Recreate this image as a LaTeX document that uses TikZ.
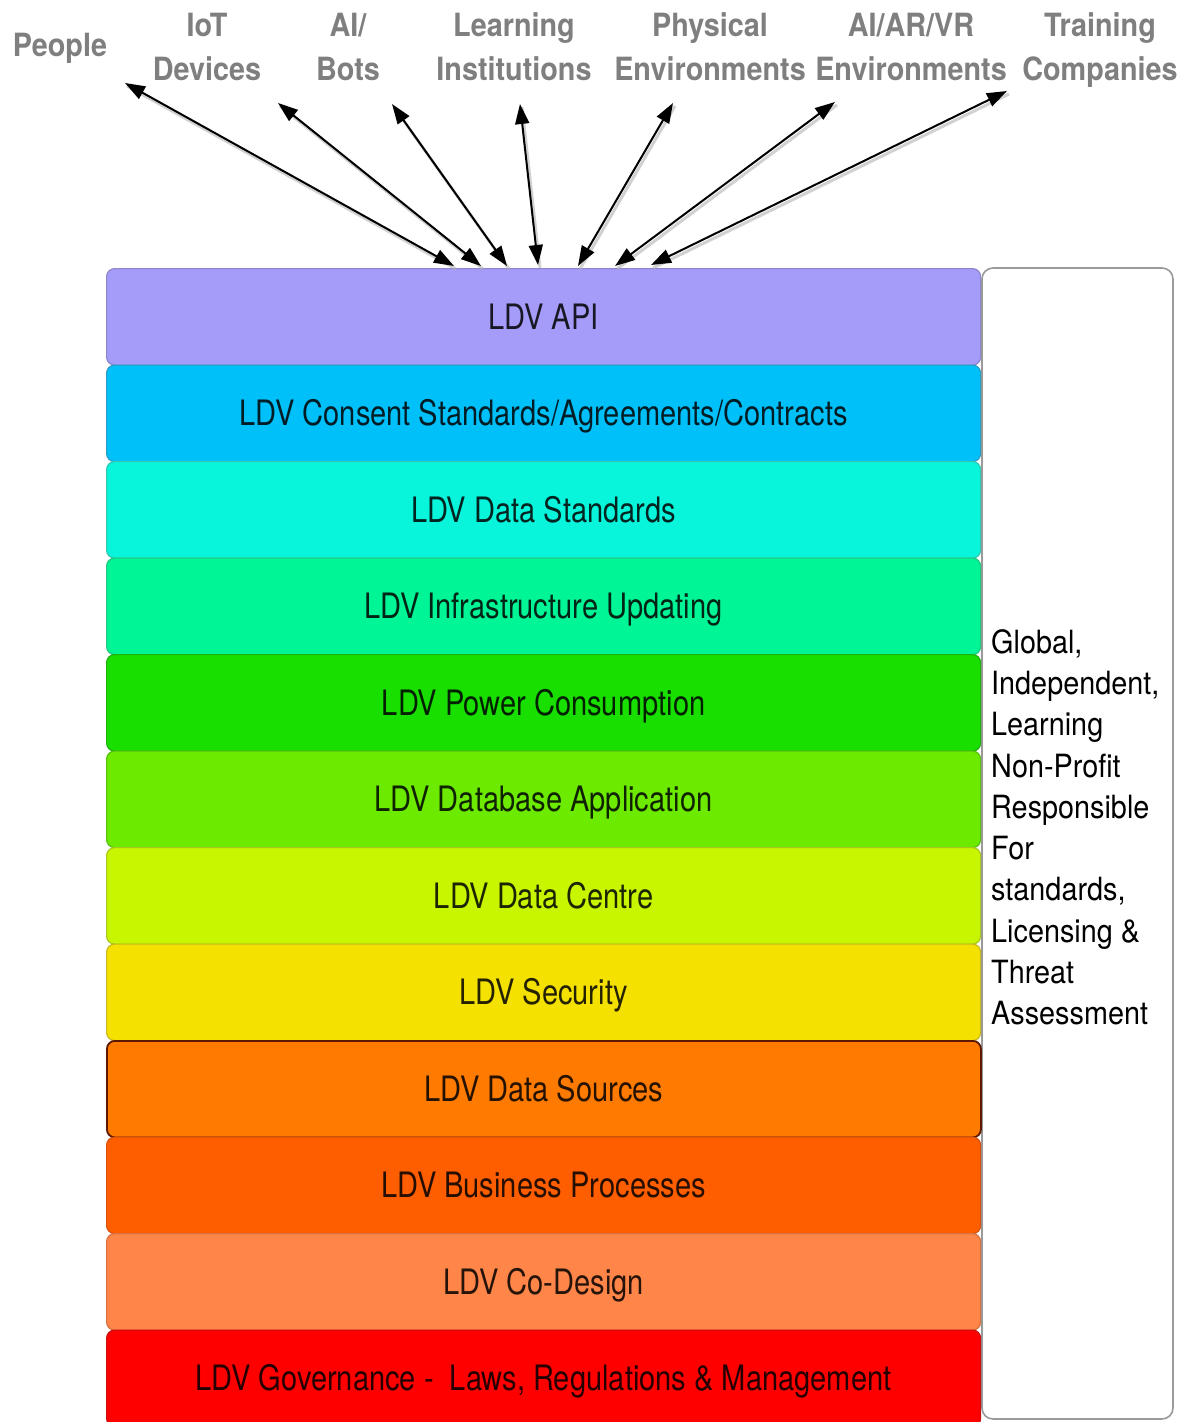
\documentclass[tikz,border=0pt]{standalone}
\usepackage{fontspec}
\setmainfont{TeX Gyre Heros}
\usetikzlibrary{arrows.meta,calc}

% layer fills and outlines
\definecolor{cApi}{HTML}{A49CF8}     \definecolor{bApi}{HTML}{8C86CC}
\definecolor{cConsent}{HTML}{00C0FA} \definecolor{bConsent}{HTML}{2C9EC4}
\definecolor{cDstd}{HTML}{08F5DC}    \definecolor{bDstd}{HTML}{30C8B0}
\definecolor{cInfra}{HTML}{00F596}   \definecolor{bInfra}{HTML}{20C880}
\definecolor{cPower}{HTML}{18DF00}   \definecolor{bPower}{HTML}{20B010}
\definecolor{cDbase}{HTML}{6CEB00}   \definecolor{bDbase}{HTML}{58C010}
\definecolor{cCentre}{HTML}{C8F500}  \definecolor{bCentre}{HTML}{A8C820}
\definecolor{cSecur}{HTML}{F5E100}   \definecolor{bSecur}{HTML}{C8B820}
\definecolor{cSrc}{HTML}{FF7A00}     \definecolor{bSrc}{HTML}{5C1800}
\definecolor{cBiz}{HTML}{FF5E00}     \definecolor{bBiz}{HTML}{D85010}
\definecolor{cCodes}{HTML}{FF8548}   \definecolor{bCodes}{HTML}{D87040}
\definecolor{cGov}{HTML}{FF0000}     \definecolor{bGov}{HTML}{C81010}
\definecolor{labelgray}{HTML}{7F7F7F}
\definecolor{sidegray}{HTML}{9A9A9A}

\newcommand{\layertext}[1]{\scalebox{0.83}[1]{#1}}
\newcommand{\toptext}[1]{\strut\scalebox{0.9}[1]{#1}}

\begin{document}
\begin{tikzpicture}[x=1pt,y=-1pt,
  layerbox/.style={draw, line width=1.2pt, rounded corners=8pt,
    minimum width=874pt, minimum height=96.5pt, anchor=north west,
    inner sep=0pt, text height=25pt, text depth=0pt,
    text=black, text opacity=0.85,
    font=\fontsize{35}{42}\selectfont},
  toplabel/.style={text=labelgray, align=center, inner sep=0pt,
    font=\fontsize{32}{44}\selectfont\bfseries},
  link/.style={line width=2pt, black,
    {Triangle[length=20pt,width=14pt]}-{Triangle[length=20pt,width=14pt]}},
  linkshadow/.style={line width=3pt, black!30, opacity=0.6}
]
\useasboundingbox (0,0) rectangle (1185,1422);

% side panel
\draw[sidegray, line width=1.6pt, rounded corners=11pt, fill=white]
  (982,268) rectangle (1173,1419);
\node[anchor=north west, inner sep=0pt, align=left,
      font=\fontsize{32}{41.3}\selectfont] (side) at (991,629)
  {\scalebox{0.9}[1]{Global,}\\ \scalebox{0.9}[1]{Independent,}\\
   \scalebox{0.9}[1]{Learning}\\ \scalebox{0.9}[1]{Non-Profit}\\
   \scalebox{0.9}[1]{Responsible}\\ \scalebox{0.9}[1]{For}\\
   \scalebox{0.9}[1]{standards,}\\ \scalebox{0.9}[1]{Licensing \&}\\
   \scalebox{0.9}[1]{Threat}\\ \scalebox{0.9}[1]{Assessment}};

% the layer stack, top to bottom
\node[layerbox, fill=cApi, draw=bApi]         (api)     at (106,268)    {\layertext{LDV API}};
\node[layerbox, fill=cConsent, draw=bConsent] (consent) at (106,364.5)  {\layertext{LDV Consent Standards/Agreements/Contracts}};
\node[layerbox, fill=cDstd, draw=bDstd]       (dstd)    at (106,461)    {\layertext{LDV Data Standards}};
\node[layerbox, fill=cInfra, draw=bInfra]     (infra)   at (106,557.5)  {\layertext{LDV Infrastructure Updating}};
\node[layerbox, fill=cPower, draw=bPower]     (power)   at (106,654)    {\layertext{LDV Power Consumption}};
\node[layerbox, fill=cDbase, draw=bDbase]     (dbase)   at (106,750.5)  {\layertext{LDV Database Application}};
\node[layerbox, fill=cCentre, draw=bCentre]   (centre)  at (106,847)    {\layertext{LDV Data Centre}};
\node[layerbox, fill=cSecur, draw=bSecur]     (secur)   at (106,943.5)  {\layertext{LDV Security}};
\node[layerbox, fill=cSrc, draw=bSrc, line width=1.8pt] (src) at (106,1040) {\layertext{LDV Data Sources}};
\node[layerbox, fill=cBiz, draw=bBiz]         (biz)     at (106,1136.5) {\layertext{LDV Business Processes}};
\node[layerbox, fill=cCodes, draw=bCodes]     (codes)   at (106,1233)   {\layertext{LDV Co-Design}};
\node[layerbox, fill=cGov, draw=bGov]         (gov)     at (106,1329.5) {\layertext{LDV Governance -~ Laws, Regulations \& Management}};

% actors across the top
\node[toplabel] (people)   at (60,47.5)    {\toptext{People}};
\node[toplabel] (iot)      at (207,49.7)   {\toptext{IoT}\\ \toptext{Devices}};
\node[toplabel] (bots)     at (348,49.7)   {\toptext{AI/}\\ \toptext{Bots}};
\node[toplabel] (learn)    at (514,49.7)   {\toptext{Learning}\\ \toptext{Institutions}};
\node[toplabel] (physical) at (710,49.7)   {\toptext{Physical}\\ \toptext{Environments}};
\node[toplabel] (virtual)  at (911,49.7)   {\toptext{AI/AR/VR}\\ \toptext{Environments}};
\node[toplabel] (training) at (1100,49.7)  {\toptext{Training}\\ \toptext{Companies}};

% arrow ends below the actors and on top of the API layer
\coordinate (tPeople)   at (125,83);
\coordinate (tIot)      at (278,103);
\coordinate (tBots)     at (392,104);
\coordinate (tLearn)    at (520,104);
\coordinate (tPhysical) at (673,103);
\coordinate (tVirtual)  at (835,102);
\coordinate (tTraining) at (1007,91);

\coordinate (aPeople)   at (454,266);
\coordinate (aIot)      at (481,266);
\coordinate (aBots)     at (507,266);
\coordinate (aLearn)    at (538,265);
\coordinate (aPhysical) at (578,266);
\coordinate (aVirtual)  at (615,266);
\coordinate (aTraining) at (651,265);

% soft shadows under the links
\foreach \a/\b in {tPeople/aPeople, tIot/aIot, tBots/aBots, tLearn/aLearn,
                   tPhysical/aPhysical, tVirtual/aVirtual, tTraining/aTraining}
  \draw[linkshadow] ($(\a)+(2,3)$) -- ($(\b)+(2,3)$);

% two-way links between the actors and the API
\draw[link] (tPeople)   -- (aPeople);
\draw[link] (tIot)      -- (aIot);
\draw[link] (tBots)     -- (aBots);
\draw[link] (tLearn)    -- (aLearn);
\draw[link] (tPhysical) -- (aPhysical);
\draw[link] (tVirtual)  -- (aVirtual);
\draw[link] (tTraining) -- (aTraining);
\end{tikzpicture}
\end{document}
